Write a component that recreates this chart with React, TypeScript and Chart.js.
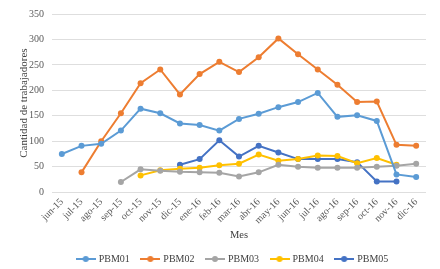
import React, { useEffect, useRef } from "react";
import { Chart, registerables } from "chart.js";

Chart.register(...registerables);

const categories = [
  "jun-15", "jul-15", "ago-15", "sep-15", "oct-15", "nov-15", "dic-15",
  "ene-16", "feb-16", "mar-16", "abr-16", "may-16", "jun-16", "jul-16",
  "ago-16", "sep-16", "oct-16", "nov-16", "dic-16",
];

const pbm01 = [75, 91, 95, 121, 164, 155, 135, 132, 121, 144, 154, 167, 177, 195, 148, 151, 140, 35, 30];
const pbm02 = [null, 39, 100, 155, 214, 241, 192, 232, 256, 236, 265, 302, 271, 241, 211, 177, 178, 93, 91];
const pbm03 = [null, null, null, 20, 45, 42, 40, 39, 38, 31, 39, 54, 50, 48, 48, 48, 50, 52, 56];
const pbm04 = [null, null, null, null, 33, 43, 46, 48, 53, 56, 74, 62, 65, 72, 71, 57, 67, 54, null];
const pbm05 = [null, null, null, null, null, null, 54, 65, 102, 70, 91, 78, 65, 65, 65, 59, 21, 21, null];

const seriesNames = ["PBM01", "PBM02", "PBM03", "PBM04", "PBM05"];
const seriesData = [pbm01, pbm02, pbm03, pbm04, pbm05];
const seriesColors = ["#5B9BD5", "#ED7D31", "#A5A5A5", "#FFC000", "#4472C4"];

const yTicks = [0, 50, 100, 150, 200, 250, 300, 350];

const FONT = "'Liberation Serif', 'Times New Roman', serif";

function legendMarker(color: string): HTMLCanvasElement {
  const c = document.createElement("canvas");
  c.width = 20;
  c.height = 8;
  const ctx = c.getContext("2d")!;
  ctx.strokeStyle = color;
  ctx.lineWidth = 2;
  ctx.beginPath();
  ctx.moveTo(0, 4);
  ctx.lineTo(20, 4);
  ctx.stroke();
  ctx.fillStyle = color;
  ctx.beginPath();
  ctx.arc(10, 4, 3, 0, Math.PI * 2);
  ctx.fill();
  return c;
}

const shiftLegend = {
  id: "shiftLegend",
  afterLayout(chart: any) {
    const lg = chart.legend;
    if (lg) {
      lg.left += 14;
      lg.right += 14;
    }
  },
};

export default function App() {
  const ref = useRef<HTMLCanvasElement | null>(null);

  useEffect(() => {
    if (!ref.current) return;
    const markers = seriesColors.map((c) => legendMarker(c));
    const chart = new Chart(ref.current, {
      type: "line",
      data: {
        labels: categories,
        datasets: seriesNames.map((name, i) => ({
          label: name,
          data: seriesData[i],
          borderColor: seriesColors[i],
          backgroundColor: seriesColors[i],
          borderWidth: 2,
          pointRadius: 3,
          pointBackgroundColor: seriesColors[i],
          pointBorderColor: seriesColors[i],
          pointBorderWidth: 0,
          tension: 0,
          spanGaps: false,
          fill: false,
        })),
      },
      plugins: [shiftLegend],
      options: {
        responsive: false,
        animation: false,
        devicePixelRatio: 1,
        layout: { padding: { left: 12, right: 14, top: 8, bottom: -5 } },
        plugins: {
          tooltip: { enabled: false },
          legend: {
            position: "bottom",
            labels: {
              usePointStyle: true,
              pointStyleWidth: 16,
              boxHeight: 8,
              padding: 12.5,
              color: "#404040",
              font: { family: FONT, size: 10 },
              generateLabels: (ch: any) =>
                ch.data.datasets.map((ds: any, i: number) => ({
                  text: ds.label,
                  fillStyle: ds.borderColor,
                  strokeStyle: ds.borderColor,
                  lineWidth: 0,
                  pointStyle: markers[i],
                  hidden: false,
                  datasetIndex: i,
                  fontColor: "#404040",
                })),
            },
          },
        },
        scales: {
          x: {
            offset: true,
            afterFit: (scale: any) => {
              scale.height = 49.3;
            },
            grid: { display: false, drawTicks: false },
            border: { display: false },
            ticks: {
              minRotation: 45,
              maxRotation: 45,
              autoSkip: false,
              padding: 4,
              color: "#595959",
              font: { family: FONT, size: 10 },
            },
            title: {
              display: true,
              text: "Mes",
              color: "#404040",
              font: { family: FONT, size: 10.5 },
              padding: { top: 4, bottom: 0 },
            },
          },
          y: {
            min: 0,
            max: 350,
            afterBuildTicks: (scale: any) => {
              scale.ticks = yTicks.map((v) => ({ value: v }));
            },
            afterFit: (scale: any) => {
              scale.width = 40;
            },
            grid: { color: "#dedede", lineWidth: 1, drawTicks: false },
            border: { display: false },
            ticks: {
              padding: 8,
              color: "#595959",
              font: { family: FONT, size: 10 },
            },
            title: {
              display: true,
              text: "Cantidad de trabajadores",
              color: "#404040",
              font: { family: FONT, size: 11 },
              padding: { top: 6, bottom: 0 },
            },
          },
        },
      },
    });
    return () => chart.destroy();
  }, []);

  return (
    <div style={{ position: "absolute", left: 0, top: 0, width: 440, height: 269, background: "#fff" }}>
      <canvas ref={ref} width={440} height={269} style={{ width: 440, height: 269, display: "block" }} />
    </div>
  );
}
